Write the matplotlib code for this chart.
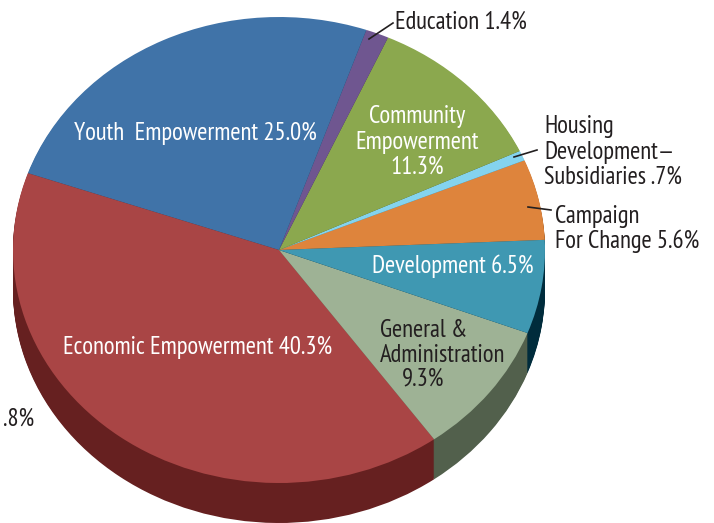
import matplotlib
matplotlib.use('Agg')
import matplotlib.pyplot as plt

plt.rcParams['font.family'] = ['PT Sans Narrow', 'Fira Sans Condensed', 'Liberation Sans', 'DejaVu Sans']

# counter clockwise from the right hand edge of the development slice
names = ['Campaign', 'Housing', 'Community', 'Education', 'Youth', 'Economic', 'General', 'Development']
shares = [5.6, 0.7, 11.3, 1.4, 25.0, 40.3, 9.3, 6.5]
top_colors = ['#DE843C', '#84D3EE', '#8BA84E', '#6F5690', '#4073A8', '#A94545', '#9EB295', '#3F98B2']
side_colors = ['#7A4416', '#3F7488', '#46582A', '#392A4E', '#1F3D5E', '#662020', '#52604C', '#002C3C']

# white labels sit on the slices, black ones outside
white_labels = [
    ('Youth  Empowerment 25.0%', 195, 133),
    ('Community\nEmpowerment\n11.3%', 417, 142),
    ('Development 6.5%', 453, 266),
    ('Economic Empowerment 40.3%', 198, 347),
]
black_labels = [
    ('Education 1.4%', 395, 22, 'left'),
    ('Housing\nDevelopment—\nSubsidiaries .7%', 544, 152, 'left'),
    ('Campaign\nFor Change 5.6%', 555, 229, 'left'),
    ('.8%', 34, 419, 'right'),
    ('General &\nAdministration', 380, 343, 'left'),
]
leaders = [
    ((393, 369), (23, 39)),
    ((537, 514), (150, 157)),
    ((551, 528), (210, 207)),
]

W, H = 714, 523
cx, cy = 279, 250
rx, ry = 266, 233
depth = 40
start = 2.5

fig = plt.figure(figsize=(W / 100, H / 100), dpi=100)
ax = fig.add_axes([0, 0, 1, 1])

# the wall of the pie is the same pie stacked downwards
for i in range(depth, 0, -1):
    ax.pie(shares, colors=side_colors, startangle=start, radius=1, center=(0, -i / ry),
           counterclock=True, normalize=True, frame=True, wedgeprops={'linewidth': 0})
ax.pie(shares, colors=top_colors, startangle=start, radius=1, center=(0, 0),
       counterclock=True, normalize=True, frame=True, wedgeprops={'linewidth': 0})
ax.set_aspect('auto')
ax.set_xlim(-cx / rx, (W - cx) / rx)
ax.set_ylim((cy - H) / ry, cy / ry)
ax.axis('off')

# overlay in pixel coordinates for the labels
over = fig.add_axes([0, 0, 1, 1])
over.set_xlim(0, W)
over.set_ylim(H, 0)
over.axis('off')

size = 17.7
spacing = 1.12
for x, y in leaders:
    over.plot(x, y, color='#231F20', lw=1.2)
for txt, x, y in white_labels:
    over.text(x, y, txt, color='white', fontsize=size, ha='center', va='center', linespacing=spacing)
for txt, x, y, ha in black_labels:
    over.text(x, y, txt, color='#231F20', fontsize=size, ha=ha, va='center', linespacing=spacing)
over.text(423, 379, '9.3%', color='#231F20', fontsize=size, ha='center', va='center')

fig.savefig('out.png', dpi=100)
